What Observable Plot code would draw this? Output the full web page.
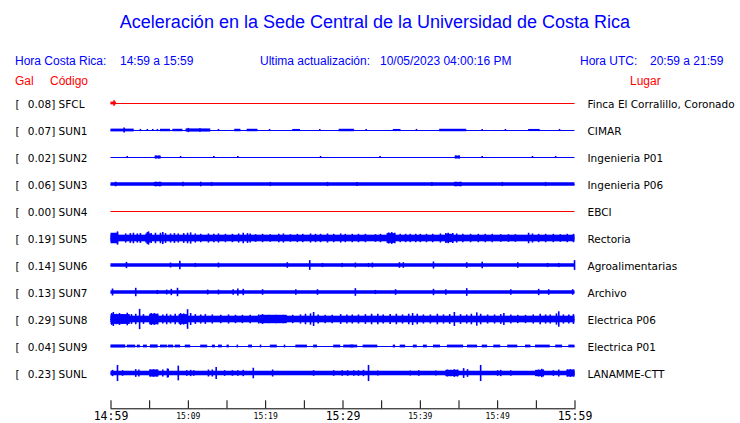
<!DOCTYPE html>
<html>
<head>
<meta charset="utf-8">
<script src="https://cdn.jsdelivr.net/npm/d3@7"></script>
<script src="https://cdn.jsdelivr.net/npm/@observablehq/plot@0.6"></script>
<style>
  html, body { margin: 0; padding: 0; background: #fff; }
  #wrap { width: 740px; height: 423px; position: relative; overflow: hidden; }
  #head { position: relative; width: 740px; height: 90px; font-family: "Liberation Sans", Arial, sans-serif; }
  #head span { position: absolute; white-space: pre; line-height: 1; }
  .blue { color: #0000ff; font-size: 12px; }
  .red { color: #ff0000; font-size: 12px; }
  #chart svg { display: block; }
</style>
</head>
<body>
<div id="wrap">
  <div id="head">
    <span id="title" style="left:0;width:750px;text-align:center;top:13px;font-size:18px;color:#0000ff;"></span>
    <span class="blue" style="left:15px;top:55px;">Hora Costa Rica:</span>
    <span class="blue" style="left:120px;top:55px;" id="crRange"></span>
    <span class="blue" style="left:260px;top:55px;">Ultima actualización:</span>
    <span class="blue" style="left:380px;top:55px;" id="updated"></span>
    <span class="blue" style="left:580px;top:55px;">Hora UTC:</span>
    <span class="blue" style="left:650px;top:55px;" id="utcRange"></span>
    <span class="red" style="left:15px;top:75px;">Gal</span>
    <span class="red" style="left:50px;top:75px;">Código</span>
    <span class="red" style="left:630px;top:75px;">Lugar</span>
  </div>
  <div id="chart"></div>
</div>
<script>
// ---------------- data ----------------
const titleText = "Aceleración en la Sede Central de la Universidad de Costa Rica";
const crRange = "14:59 a 15:59";
const utcRange = "20:59 a 21:59";
const updated = "10/05/2023 04:00:16 PM";

const codes  = ["SFCL","SUN1","SUN2","SUN3","SUN4","SUN5","SUN6","SUN7","SUN8","SUN9","SUNL"];
const places = ["Finca El Corralillo, Coronado","CIMAR","Ingenieria P01","Ingenieria P06","EBCI","Rectoria","Agroalimentarias","Archivo","Electrica P06","Electrica P01","LANAMME-CTT"];
const peakGal = [0.08,0.07,0.02,0.06,0.00,0.19,0.14,0.13,0.29,0.04,0.23];
// continuous background amplitude (gal) of each trace
const baseGal = [0,0,0,0.05,0,0.095,0.05,0.05,0.095,0,0.065];

// time axis: minutes after 14:59
const tickMinutes = [0,5,10,15,20,25,30,35,40,45,50,55,60];
const majorMinutes = [0,30,60];
const majorLabels = ["14:59","15:29","15:59"];
const minorMinutes = [10,20,40,50];
const minorLabels = ["15:09","15:19","15:39","15:49"];

// bursts: [startMinute, endMinute, amplitudeGal]; spikes: [minute, amplitudeGal]
const burstsSFCL = [[0,0.7,0.04]];
const spikesSFCL = [[0.4,0.08]];

const burstsSUN1 = [[0,3.0,0.04],[6.4,7.7,0.035],[8.0,9.3,0.035],[9.7,12.9,0.045],[16.0,16.8,0.035],[17.6,19.0,0.035],[23.5,24.5,0.03],[29.5,31.5,0.035],[36.5,37.5,0.03],[42.5,46.0,0.035],[54.0,55.5,0.03]];
const spikesSUN1 = [[1.7,0.07],[3.8,0.03],[4.7,0.03],[5.4,0.03],[6.0,0.03],[10.0,0.06],[11.5,0.05],[13.9,0.03],[20.5,0.03],[27,0.03],[33,0.03],[39.5,0.03],[48,0.03],[51,0.03],[58,0.03]];

const burstsSUN2 = [[5.7,6.5,0.04],[44.5,45.2,0.04]];
const spikesSUN2 = [[2.1,0.03],[5.8,0.045],[6.2,0.045],[9.0,0.03],[13.3,0.03],[16.4,0.03],[27.1,0.03],[34.8,0.03],[44.6,0.045],[45.0,0.045],[48.0,0.03],[54.5,0.03],[57.5,0.03]];

const burstsSUN3 = [[5.6,6.6,0.06],[44.4,45.4,0.06]];
const spikesSUN3 = [[0.6,0.065],[5.8,0.065],[6.3,0.065],[9.3,0.065],[11.6,0.065],[13.0,0.06],[20.6,0.06],[28,0.06],[31.8,0.06],[41.5,0.06],[44.6,0.065],[45.2,0.065],[50.6,0.06],[56.2,0.06]];

const burstsSUN4 = [];
const spikesSUN4 = [];

const burstsSUN5 = [[0,1.0,0.15],[4.5,5.2,0.13],[35.7,36.7,0.14],[43.4,44.3,0.12]];
const spikesSUN5 = [[0.84,0.19],[1.9,0.13],[2.5,0.14],[2.9,0.15],[3.4,0.13],[3.8,0.14],[4.7,0.17],[4.85,0.19],[5.2,0.14],[5.75,0.15],[6.4,0.15],[6.7,0.17],[7.05,0.14],[7.7,0.13],[8.2,0.14],[8.7,0.13],[9.4,0.14],[9.9,0.15],[10.3,0.16],[10.9,0.13],[11.6,0.12],[12.6,0.13],[13.3,0.12],[13.9,0.13],[14.8,0.12],[15.7,0.12],[16.5,0.13],[17.1,0.15],[17.65,0.14],[18.0,0.13],[18.7,0.11],[19.6,0.12],[20.6,0.11],[21.7,0.12],[22.3,0.13],[23.2,0.11],[24.1,0.12],[24.8,0.12],[25.8,0.13],[26.45,0.12],[27.1,0.12],[28.0,0.13],[28.8,0.12],[29.7,0.13],[30.3,0.12],[31.2,0.12],[32.0,0.12],[32.9,0.12],[34.2,0.11],[34.85,0.12],[35.9,0.16],[36.3,0.17],[36.7,0.15],[37.4,0.12],[38.1,0.12],[38.7,0.12],[39.4,0.12],[40.0,0.12],[40.8,0.12],[41.6,0.12],[42.6,0.13],[43.3,0.14],[43.6,0.15],[44.2,0.14],[44.7,0.13],[45.5,0.12],[46.5,0.12],[47.5,0.12],[48.4,0.12],[49.3,0.12],[50.4,0.11],[51.4,0.11],[52.3,0.11],[54.0,0.15],[54.5,0.13],[55.3,0.12],[56.2,0.12],[57.2,0.12],[58.1,0.11],[59.0,0.12],[59.8,0.12]];

const burstsSUN6 = [];
const spikesSUN6 = [[2.0,0.09],[7.7,0.07],[8.9,0.12],[10.9,0.06],[13.9,0.07],[22.8,0.08],[25.7,0.14],[27.35,0.06],[29.9,0.06],[31.6,0.07],[33.3,0.06],[33.8,0.07],[37.3,0.08],[37.8,0.08],[41.7,0.1],[46.0,0.08],[48.0,0.09],[52.6,0.08],[56.45,0.06],[57.9,0.06],[59.94,0.14]];

const burstsSUN7 = [];
const spikesSUN7 = [[0.2,0.1],[3.2,0.12],[6.0,0.06],[7.2,0.07],[7.8,0.09],[8.6,0.12],[12.5,0.07],[13.9,0.07],[15.8,0.08],[16.4,0.1],[17.1,0.09],[19.6,0.08],[23.9,0.08],[26.7,0.08],[31.6,0.11],[34.2,0.06],[36.8,0.08],[41.7,0.09],[43.3,0.08],[46.0,0.11],[51.7,0.08],[55.3,0.09],[56.6,0.08],[59.7,0.08]];

const burstsSUN8 = [[0,2.5,0.14],[5.0,6.2,0.15],[8.8,9.9,0.14],[19.3,22.8,0.12]];
const spikesSUN8 = [[0.1,0.17],[0.3,0.2],[0.7,0.15],[1.1,0.17],[1.5,0.14],[2.1,0.18],[2.65,0.14],[3.2,0.15],[3.7,0.29],[4.2,0.14],[5.2,0.17],[5.6,0.17],[6.0,0.15],[6.7,0.13],[7.2,0.15],[7.7,0.13],[8.3,0.15],[9.0,0.17],[9.4,0.16],[9.9,0.28],[10.3,0.17],[10.9,0.14],[11.6,0.13],[12.2,0.14],[13.1,0.13],[14.2,0.12],[15.2,0.13],[16.1,0.12],[17.0,0.12],[18.0,0.12],[19.1,0.13],[19.6,0.14],[20.4,0.12],[21.3,0.12],[22.3,0.12],[23.5,0.12],[24.5,0.13],[25.15,0.15],[25.8,0.16],[26.2,0.2],[26.8,0.13],[27.7,0.12],[28.6,0.12],[29.7,0.14],[30.5,0.13],[31.2,0.13],[32.0,0.13],[32.9,0.14],[33.7,0.15],[34.5,0.15],[35.2,0.13],[36.1,0.14],[36.9,0.15],[37.7,0.13],[38.5,0.15],[39.0,0.17],[39.6,0.15],[40.4,0.13],[41.3,0.13],[42.2,0.15],[43.0,0.13],[43.8,0.14],[44.4,0.2],[45.2,0.14],[46.0,0.13],[46.6,0.15],[47.3,0.19],[47.8,0.15],[48.7,0.13],[49.6,0.13],[50.4,0.14],[50.8,0.17],[51.7,0.13],[52.6,0.12],[53.6,0.12],[54.6,0.13],[55.5,0.15],[56.2,0.13],[56.8,0.13],[57.6,0.16],[57.9,0.22],[58.5,0.13],[59.2,0.13],[59.8,0.14]];

const burstsSUN9 = [[0,1.9,0.045],[2.1,3.2,0.04],[3.4,3.8,0.04],[4.2,4.7,0.04],[5.1,6.1,0.045],[6.4,7.3,0.04],[7.4,8.1,0.04],[8.3,9.0,0.04],[9.6,10.3,0.04],[11.6,12.5,0.04],[13.1,13.5,0.04],[13.9,14.4,0.04],[15.0,15.3,0.04],[16.3,16.5,0.04],[17.8,18.3,0.04],[19.3,19.5,0.04],[20.6,21.5,0.04],[22.4,22.6,0.04],[23.9,25.4,0.04],[26.2,26.7,0.04],[28.8,29.7,0.04],[30.1,31.4,0.04],[31.0,31.9,0.04],[32.6,34.5,0.04],[36.5,36.8,0.04],[37.4,38.1,0.04],[39.1,39.6,0.04],[40.4,40.9,0.04],[41.7,42.6,0.04],[43.5,45.6,0.04],[46.1,47.4,0.04],[48.0,48.7,0.04],[49.5,50.4,0.04],[51.3,52.6,0.04],[53.6,54.3,0.04],[54.9,56.8,0.04],[57.5,58.4,0.04],[59.2,60,0.04]];
const spikesSUN9 = [];

const burstsSUNL = [[5.0,6.2,0.1],[43.3,45.0,0.09],[54.9,56.0,0.09],[59.0,60,0.1]];
const spikesSUNL = [[0.2,0.09],[0.84,0.23],[1.5,0.08],[3.2,0.11],[3.6,0.1],[5.1,0.1],[5.5,0.11],[5.9,0.1],[6.7,0.1],[7.3,0.13],[7.4,0.12],[8.7,0.21],[9.8,0.08],[10.3,0.09],[10.7,0.08],[12.6,0.1],[13.1,0.1],[13.6,0.17],[14.7,0.08],[15.7,0.08],[16.4,0.08],[17.1,0.09],[18.4,0.15],[20.9,0.1],[26.2,0.08],[28.8,0.08],[29.9,0.08],[30.6,0.08],[31.4,0.08],[32.0,0.08],[32.65,0.09],[33.3,0.23],[34.5,0.07],[38.7,0.07],[39.8,0.08],[42.0,0.07],[43.5,0.1],[43.9,0.09],[44.4,0.11],[44.8,0.1],[45.6,0.14],[46.1,0.11],[47.8,0.23],[50.0,0.08],[50.4,0.09],[51.7,0.08],[55.3,0.1],[55.7,0.12],[55.9,0.1],[57.2,0.08],[57.9,0.1],[59.0,0.1],[59.4,0.11],[59.8,0.1]];

// ---------------- build ----------------
document.getElementById("title").textContent = titleText;
document.getElementById("crRange").textContent = crRange;
document.getElementById("utcRange").textContent = utcRange;
document.getElementById("updated").textContent = updated;

const BLUE = "#0000ff", RED = "#ff0000";
const redCodes = new Set(["SFCL","SUN4"]);
const colorOf = c => redCodes.has(c) ? RED : BLUE;

const burstSets = [burstsSFCL,burstsSUN1,burstsSUN2,burstsSUN3,burstsSUN4,burstsSUN5,burstsSUN6,burstsSUN7,burstsSUN8,burstsSUN9,burstsSUNL];
const spikeSets = [spikesSFCL,spikesSUN1,spikesSUN2,spikesSUN3,spikesSUN4,spikesSUN5,spikesSUN6,spikesSUN7,spikesSUN8,spikesSUN9,spikesSUNL];

const stations = codes.map((c, i) => ({row: i, code: c, place: places[i], gal: peakGal[i], base: baseGal[i]}));
const bursts = burstSets.flatMap((arr, i) => arr.map(([m0, m1, a]) => ({row: i, code: codes[i], m0, m1, a})));
const spikes = spikeSets.flatMap((arr, i) => arr.map(([m, a]) => ({row: i, code: codes[i], m, a})));

const startMin = 0, endMin = 60;
const K = 35 / 27; // row units per gal (display gain)

const W = 740, H = 333;
const mL = 110.5, mR = 165.5, mB = 14.7;
const frameBottom = H - mB;
const rowPx = 27, firstRowPx = 13;
const yDomain = [-firstRowPx / rowPx, (frameBottom - firstRowPx) / rowPx];

const chart = Plot.plot({
  width: W,
  height: H,
  marginLeft: mL,
  marginRight: mR,
  marginTop: 0,
  marginBottom: mB,
  style: {fontFamily: "DejaVu Sans, sans-serif", background: "white", color: "black"},
  x: {domain: [startMin, endMin], label: null},
  y: {domain: yDomain, range: [0, frameBottom], axis: null},
  marks: [
    Plot.ruleY(stations, {y: "row", x1: () => startMin, x2: () => endMin, stroke: d => colorOf(d.code), strokeWidth: 1}),
    Plot.rect(stations.filter(d => d.base > 0), {x1: () => startMin, x2: () => endMin, y1: d => d.row - d.base * K, y2: d => d.row + d.base * K, fill: d => colorOf(d.code)}),
    Plot.rect(bursts, {x1: "m0", x2: "m1", y1: d => d.row - d.a * K, y2: d => d.row + d.a * K, fill: d => colorOf(d.code)}),
    Plot.ruleX(spikes, {x: "m", y1: d => d.row - d.a * K, y2: d => d.row + d.a * K, stroke: d => colorOf(d.code), strokeWidth: 1.6}),
    // left labels
    Plot.text(stations, {y: "row", frameAnchor: "left", dx: 15 - mL, dy: 1, text: () => "[", textAnchor: "start", fontSize: 10.5, fill: "black"}),
    Plot.text(stations, {y: "row", frameAnchor: "left", dx: 27.3 - mL, dy: 1, text: d => `${d.gal.toFixed(2)}] ${d.code}`, textAnchor: "start", fontSize: 10.5, fill: "black"}),
    // right labels
    Plot.text(stations, {y: "row", frameAnchor: "right", dx: 12.5, dy: 1, text: "place", textAnchor: "start", fontSize: 10.5, fill: "black"}),
    // time axis
    Plot.frame({anchor: "bottom", stroke: "black"}),
    Plot.axisX({ticks: tickMinutes, tickSize: 8, dy: -8, tickFormat: () => "", stroke: "black"}),
    Plot.axisX({ticks: majorMinutes, tickSize: 0, tickPadding: 3, tickFormat: m => majorLabels[majorMinutes.indexOf(m)], fontSize: 11.5, fontFamily: "DejaVu Sans Mono", fontWeight: "normal", fill: "black"}),
    Plot.axisX({ticks: minorMinutes, tickSize: 0, tickPadding: 4.5, tickFormat: m => minorLabels[minorMinutes.indexOf(m)], fontSize: 8, fontFamily: "DejaVu Sans Mono", fill: "black"})
  ]
});
document.getElementById("chart").appendChild(chart);
</script>
</body>
</html>
